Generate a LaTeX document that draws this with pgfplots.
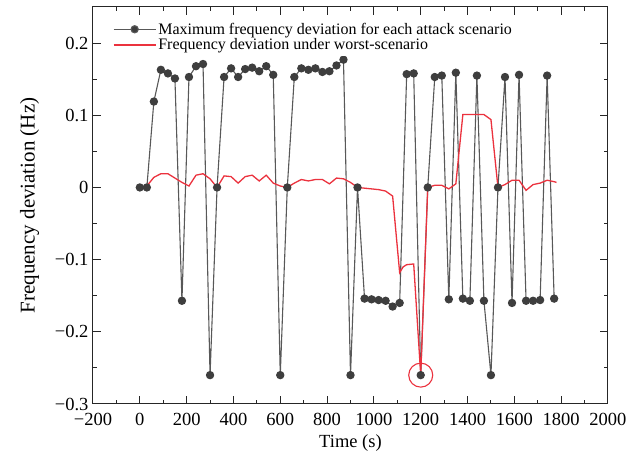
\documentclass[border=0pt]{standalone}
\usepackage{fontspec}
\setmainfont{Liberation Serif}
\usepackage{pgfplots}
\pgfplotsset{compat=1.18}
\definecolor{blk}{RGB}{88,88,88}
\definecolor{mk}{RGB}{62,62,62}
\definecolor{worstred}{RGB}{235,50,62}
\pgfplotstableread{
t v
0 0
30 0
60 0.119
90 0.163
120 0.158
150 0.151
180 -0.157
210 0.153
240 0.168
270 0.171
300 -0.26
330 0
360 0.153
390 0.165
420 0.153
450 0.164
480 0.166
510 0.161
540 0.168
570 0.156
600 -0.26
630 0
660 0.153
690 0.165
720 0.163
750 0.165
780 0.160
810 0.161
840 0.169
870 0.177
900 -0.26
930 0
960 -0.154
990 -0.155
1020 -0.156
1050 -0.157
1080 -0.165
1110 -0.160
1140 0.157
1170 0.158
1200 -0.26
1230 0
1260 0.153
1290 0.155
1320 -0.155
1350 0.159
1380 -0.154
1410 -0.157
1440 0.155
1470 -0.157
1500 -0.26
1530 0
1560 0.153
1590 -0.160
1620 0.156
1650 -0.157
1680 -0.157
1710 -0.156
1740 0.155
1770 -0.154
}\maxdev
\pgfplotstableread{
t v
0 0
30 0.002
60 0.014
90 0.019
120 0.019
150 0.013
180 0.007
210 0.002
240 0.017
270 0.019
300 0.012
330 0
360 0.016
390 0.015
420 0.006
450 0.015
480 0.017
510 0.009
540 0.017
570 0.006
600 0.002
630 0
660 0.006
690 0.011
720 0.009
750 0.011
780 0.011
810 0.005
840 0.013
870 0.012
900 0.007
930 0
960 -0.001
990 -0.002
1020 -0.003
1050 -0.005
1080 -0.012
1110 -0.118
1125 -0.110
1140 -0.107
1170 -0.106
1200 -0.26
1230 0
1260 0.003
1290 0.003
1320 -0.002
1350 0.005
1380 0.101
1410 0.101
1440 0.101
1470 0.101
1500 0.094
1530 0
1560 0.004
1590 0.010
1620 0.010
1650 -0.004
1680 0.004
1710 0.006
1740 0.010
1770 0.008
1780 0.007
}\worst
\begin{document}
\begin{tikzpicture}
\useasboundingbox (-93pt,-54pt) rectangle (537pt,404pt);
\begin{axis}[
  scale only axis, width=515pt, height=397pt,
  xmin=-200, xmax=2000, ymin=-0.3, ymax=0.25,
  xtick={-200,0,200,400,600,800,1000,1200,1400,1600,1800,2000},
  xticklabels={−200,0,200,400,600,800,1000,1200,1400,1600,1800,2000},
  ytick={-0.3,-0.2,-0.1,0,0.1,0.2},
  yticklabels={−0.3,−0.2,−0.1,0,0.1,0.2},
  minor x tick num=1, minor y tick num=1,
  major tick length=8pt, minor tick length=4pt,
  tick style={line width=1pt, color=black!85},
  axis line style={line width=1pt, color=black!85},
  ticklabel style={font=\fontsize{18.5}{20}\selectfont},
  xticklabel style={yshift=-6pt},
  yticklabel style={xshift=-1pt},
  xlabel={Time (s)}, ylabel={Frequency deviation (Hz)},
  xlabel style={font=\fontsize{18.5}{20}\selectfont, yshift=-2pt},
  ylabel style={font=\fontsize{21}{23}\selectfont, yshift=9pt},
  legend cell align=left,
  legend style={at={(0.035,0.97)}, anchor=north west, draw=white, line width=0pt, fill=none,
    font=\fontsize{16}{17}\selectfont, row sep=-1pt, inner sep=2pt},
]
\addplot[color=blk, line width=1.1pt, mark=*, mark size=3.6pt, mark options={fill=mk, draw=mk},
  legend image code/.code={\draw[draw=blk, line width=1.1pt] (0pt,0pt) -- (42pt,0pt); \fill[fill=mk] (21pt,0pt) circle (3.6pt);}] table[x=t,y=v] {\maxdev};
\addlegendentry{Maximum frequency deviation for each attack scenario}
\addplot[color=worstred, draw=worstred, line width=1.3pt,
  legend image code/.code={\draw[draw=worstred, line width=1.3pt] (0pt,0pt) -- (42pt,0pt);}] table[x=t,y=v] {\worst};
\addlegendentry{Frequency deviation under worst-scenario}
\addplot[worstred, line width=1.1pt, only marks, mark=o, mark size=12pt, forget plot] coordinates {(1200,-0.26)};
\end{axis}
\end{tikzpicture}
\end{document}
